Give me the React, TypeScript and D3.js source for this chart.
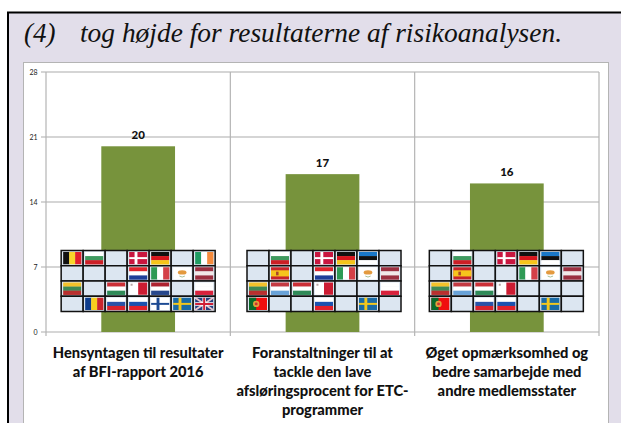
import React from "react";
import * as d3 from "d3";

const categories = [
  ["Hensyntagen til resultater", "af BFI-rapport 2016"],
  ["Foranstaltninger til at", "tackle den lave", "afsløringsprocent for ETC-", "programmer"],
  ["Øget opmærksomhed og", "bedre samarbejde med", "andre medlemsstater"],
];
const values = [20, 17, 16];
const yTicks = [0, 7, 14, 21, 28];
const titleNumber = "(4)";
const titleText = "tog højde for resultaterne af risikoanalysen.";
const flagsA = [
  ["be", "bg", "", "dk", "de", "", "ie"],
  ["", "", "", "hr", "it", "cy", "lv"],
  ["lt", "", "hu", "mt", "nl", "", "pl"],
  ["", "ro", "si", "sk", "fi", "se", "uk"],
];
const flagsB = [
  ["", "bg", "", "dk", "de", "ee", ""],
  ["", "es", "", "hr", "it", "cy", "lv"],
  ["lt", "lu", "hu", "mt", "", "", "pl"],
  ["pt", "", "", "sk", "", "se", ""],
];
const flagsC = [
  ["", "bg", "", "dk", "de", "ee", ""],
  ["", "es", "", "", "it", "cy", "lv"],
  ["lt", "lu", "hu", "mt", "", "", ""],
  ["pt", "", "si", "sk", "", "se", ""],
];
const flagGrids = [flagsA, flagsB, flagsC];
const horizontal: Record<string, string[]> = {
  bg: ["#fff", "#3f9a5f", "#cc1f26"],
  de: ["#111", "#d8141c", "#f6c51a"],
  hr: ["#e0232c", "#fff", "#1f3f99"],
  lv: ["#9c3040", "#f2e8e8", "#9c3040"],
  lt: ["#f4c22b", "#3f8a55", "#b8302f"],
  hu: ["#cc2f36", "#fff", "#2f8a58"],
  nl: ["#ad2230", "#fff", "#26478c"],
  pl: ["#fff", "#fff", "#d8223c"],
  si: ["#fff", "#2a53a8", "#d8232c"],
  sk: ["#fff", "#1b52b0", "#e3202a"],
  lu: ["#c43a42", "#fff", "#68a2d8"],
  ee: ["#1a78c8", "#111", "#fff"],
};
const vertical: Record<string, string[]> = {
  be: ["#111", "#f8d62a", "#e2202c"],
  it: ["#2e9a55", "#fff", "#d44048"],
  ie: ["#1f9c62", "#fff", "#f58b3c"],
  ro: ["#0f3d8c", "#f8cf1e", "#c9252d"],
};
const crosses: Record<string, string[]> = {
  dk: ["#c9163f", "#fff"],
  fi: ["#fff", "#1c4a93"],
  se: ["#1a6ba5", "#f3c71d"],
};

function Flag({ code, w, h }: { code: string; w: number; h: number }) {
  if (horizontal[code]) {
    return <>{horizontal[code].map((c, i) => <rect key={i} y={(i * h) / 3} width={w} height={h / 3 + 0.2} fill={c} />)}</>;
  }
  if (vertical[code]) {
    return <>{vertical[code].map((c, i) => <rect key={i} x={(i * w) / 3} width={w / 3 + 0.2} height={h} fill={c} />)}</>;
  }
  if (crosses[code]) {
    const [bg, fg] = crosses[code];
    return (
      <>
        <rect width={w} height={h} fill={bg} />
        <rect x={w * 0.3} width={w * 0.16} height={h} fill={fg} />
        <rect y={h * 0.42} width={w} height={h * 0.16} fill={fg} />
      </>
    );
  }
  if (code === "cy") {
    return (
      <>
        <rect width={w} height={h} fill="#fff" />
        <ellipse cx={w / 2} cy={h * 0.42} rx={w * 0.24} ry={h * 0.18} fill="#e39a3f" />
        <path d={`M${w * 0.35} ${h * 0.72}Q${w / 2} ${h * 0.88} ${w * 0.65} ${h * 0.72}`} fill="none" stroke="#a9c29a" strokeWidth={1} />
      </>
    );
  }
  if (code === "mt") {
    return (
      <>
        <rect width={w} height={h} fill="#fff" />
        <rect x={w / 2} width={w / 2} height={h} fill="#cc1c32" />
        <rect x={w * 0.08} y={h * 0.1} width={2} height={2} fill="#b9a6a6" />
      </>
    );
  }
  if (code === "es") {
    return (
      <>
        <rect width={w} height={h} fill="#c8242b" />
        <rect y={h * 0.25} width={w} height={h * 0.5} fill="#f6c51c" />
        <rect x={w * 0.28} y={h * 0.36} width={w * 0.14} height={h * 0.3} fill="#a8452a" />
      </>
    );
  }
  if (code === "pt") {
    return (
      <>
        <rect width={w} height={h} fill="#f00e0e" />
        <rect width={w * 0.4} height={h} fill="#0a6a2a" />
        <circle cx={w * 0.4} cy={h / 2} r={h * 0.26} fill="#e0a13a" />
        <circle cx={w * 0.4} cy={h / 2} r={h * 0.12} fill="#c33" />
      </>
    );
  }
  if (code === "uk") {
    return (
      <>
        <rect width={w} height={h} fill="#27407f" />
        <path d={`M0 0L${w} ${h}M${w} 0L0 ${h}`} stroke="#e9c6cc" strokeWidth={2} />
        <path d={`M${w / 2} 0V${h}M0 ${h / 2}H${w}`} stroke="#fff" strokeWidth={3.5} />
        <path d={`M${w / 2} 0V${h}M0 ${h / 2}H${w}`} stroke="#cf1f36" strokeWidth={2} />
      </>
    );
  }
  return null;
}

export default function App() {
  const x = d3.scaleBand<number>().domain(d3.range(values.length)).range([46, 599]).paddingInner(0);
  const y = d3.scaleLinear().domain([0, 28]).range([332, 72]);
  const barW = x.bandwidth() * 0.4;
  const gridW = 154;
  const gridH = 61;
  const cellW = gridW / 7;
  const cellH = gridH / 4;
  const gridTop = 250.5;
  const gridOffsets = [0, 1.5, -0.5];
  const sans = "Lato, 'Open Sans', sans-serif";

  return (
    <svg width={621} height={423} style={{ position: "absolute", left: 0, top: 0, display: "block", background: "#fff" }}>
      <rect x={8} y={12.5} width={640} height={440} fill="#E2DEEA" stroke="#000" strokeWidth={2} />
      <text x={24} y={42} fontFamily="'Liberation Serif', serif" fontStyle="italic" fontSize={27} fill="#111">{titleNumber}</text>
      <text x={80} y={42} fontFamily="'Liberation Serif', serif" fontStyle="italic" fontSize={27} fill="#111" textLength={482} lengthAdjust="spacingAndGlyphs">{titleText}</text>
      <rect x={23.5} y={62.5} width={585} height={400} fill="#fff" stroke="#b4b4b4" />

      {yTicks.map((t) => (
        <g key={t}>
          <line x1={41} x2={599} y1={y(t)} y2={y(t)} stroke={t === 0 ? "#c8c8c8" : "#ababab"} strokeWidth={t === 0 ? 1.6 : 1} />
          <text x={37.5} y={y(t) + 2.5} textAnchor="end" fontFamily={sans} fontSize={7} fill="#222">{t}</text>
        </g>
      ))}
      {d3.range(values.length + 1).map((i) => {
        const px = 46 + i * x.bandwidth();
        return <line key={i} x1={px} x2={px} y1={72} y2={336} stroke="#b4b4b4" strokeWidth={1.2} />;
      })}

      {values.map((v, i) => {
        const cx = (x(i) as number) + x.bandwidth() / 2;
        return (
          <g key={i}>
            <rect x={cx - barW / 2} y={y(v)} width={barW} height={y(0) - y(v)} fill="#77933C" />
            <text x={cx} y={y(v) - 7} textAnchor="middle" fontFamily={sans} fontWeight={900} fontSize={11.5} fill="#111">{v}</text>
          </g>
        );
      })}

      {flagGrids.map((grid, gi) => {
        const cx = (x(gi) as number) + x.bandwidth() / 2;
        const left = cx - gridW / 2 + gridOffsets[gi];
        return (
          <g key={gi} transform={`translate(${left},${gridTop})`}>
            {grid.map((row, r) =>
              row.map((code, c) => (
                <g key={c} transform={`translate(${c * cellW},${r * cellH})`}>
                  <rect width={cellW} height={cellH} fill="#DCE6F1" stroke="#111" strokeWidth={1.5} />
                  {code && (
                    <g transform="translate(2,1.5)">
                      <Flag code={code} w={cellW - 4} h={cellH - 3} />
                    </g>
                  )}
                </g>
              ))
            )}
          </g>
        );
      })}

      {categories.map((lines, i) => {
        const cx = (x(i) as number) + x.bandwidth() / 2;
        return (
          <text key={i} textAnchor="middle" fontFamily={sans} fontWeight={900} fontSize={14.7} fill="#111">
            {lines.map((l, j) => <tspan key={j} x={cx} y={358 + j * 19}>{l}</tspan>)}
          </text>
        );
      })}
    </svg>
  );
}
